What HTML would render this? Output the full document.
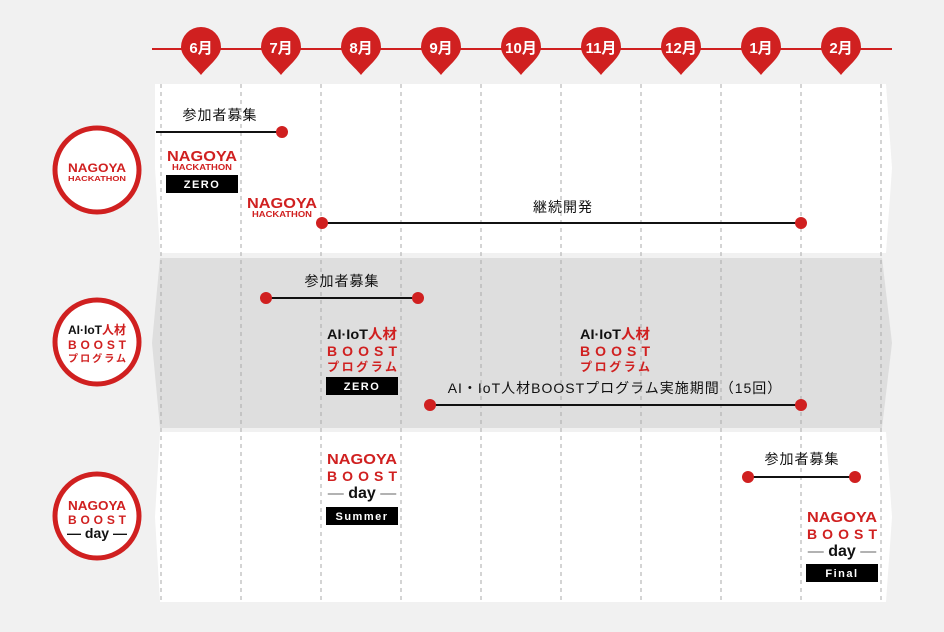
<!DOCTYPE html>
<html><head><meta charset="utf-8"><style>
html,body{margin:0;padding:0;background:#f1f1f1;}
svg{display:block;}
text{font-family:"Liberation Sans","Noto Sans CJK JP",sans-serif;}
.lbl{font-size:14px;fill:#111;letter-spacing:1px;}
.r{fill:#d02020;font-weight:bold;}
.k{fill:#111;font-weight:bold;}
.w{fill:#fff;font-weight:bold;font-size:11px;letter-spacing:1.5px;}
</style></head><body>
<svg width="944" height="632" viewBox="0 0 944 632" xmlns="http://www.w3.org/2000/svg">
<rect width="944" height="632" fill="#f1f1f1"/>
<polygon points="155,84 886,84 892,168 886,253 160,253 155,168" fill="#fff"/>
<polygon points="160,258 882,258 892,343 882,428 160,428 152,343" fill="#dedede"/>
<polygon points="160,432 886,432 892,517 886,602 160,602 155,517" fill="#fff"/>
<g stroke="#aaa" stroke-width="1" stroke-dasharray="4,4">
<line x1="161" y1="84" x2="161" y2="602"/><line x1="241" y1="84" x2="241" y2="602"/>
<line x1="321" y1="84" x2="321" y2="602"/><line x1="401" y1="84" x2="401" y2="602"/>
<line x1="481" y1="84" x2="481" y2="602"/><line x1="561" y1="84" x2="561" y2="602"/>
<line x1="641" y1="84" x2="641" y2="602"/><line x1="721" y1="84" x2="721" y2="602"/>
<line x1="801" y1="84" x2="801" y2="602"/><line x1="881" y1="84" x2="881" y2="602"/>
</g>
<line x1="152" y1="49" x2="892" y2="49" stroke="#d02020" stroke-width="2"/>
<g font-size="15" font-weight="bold" fill="#fff" text-anchor="middle">
<path d="M181,47 a20,20 0 1 1 40,0 c0,10 -12,18 -20,28 c-8,-10 -20,-18 -20,-28z" fill="#d02020"/><text x="201" y="53" fill="#fff">6月</text>
<path d="M261,47 a20,20 0 1 1 40,0 c0,10 -12,18 -20,28 c-8,-10 -20,-18 -20,-28z" fill="#d02020"/><text x="281" y="53" fill="#fff">7月</text>
<path d="M341,47 a20,20 0 1 1 40,0 c0,10 -12,18 -20,28 c-8,-10 -20,-18 -20,-28z" fill="#d02020"/><text x="361" y="53" fill="#fff">8月</text>
<path d="M421,47 a20,20 0 1 1 40,0 c0,10 -12,18 -20,28 c-8,-10 -20,-18 -20,-28z" fill="#d02020"/><text x="441" y="53" fill="#fff">9月</text>
<path d="M501,47 a20,20 0 1 1 40,0 c0,10 -12,18 -20,28 c-8,-10 -20,-18 -20,-28z" fill="#d02020"/><text x="521" y="53" fill="#fff">10月</text>
<path d="M581,47 a20,20 0 1 1 40,0 c0,10 -12,18 -20,28 c-8,-10 -20,-18 -20,-28z" fill="#d02020"/><text x="601" y="53" fill="#fff">11月</text>
<path d="M661,47 a20,20 0 1 1 40,0 c0,10 -12,18 -20,28 c-8,-10 -20,-18 -20,-28z" fill="#d02020"/><text x="681" y="53" fill="#fff">12月</text>
<path d="M741,47 a20,20 0 1 1 40,0 c0,10 -12,18 -20,28 c-8,-10 -20,-18 -20,-28z" fill="#d02020"/><text x="761" y="53" fill="#fff">1月</text>
<path d="M821,47 a20,20 0 1 1 40,0 c0,10 -12,18 -20,28 c-8,-10 -20,-18 -20,-28z" fill="#d02020"/><text x="841" y="53" fill="#fff">2月</text>
</g>
<g fill="#fff" stroke="#d02020" stroke-width="5">
<circle cx="97" cy="170" r="42"/><circle cx="97" cy="342" r="42"/><circle cx="97" cy="516" r="42"/>
</g>
<g text-anchor="middle">
<text x="97" y="172" class="r" font-size="12" textLength="58" lengthAdjust="spacingAndGlyphs">NAGOYA</text>
<text x="97" y="181" class="r" font-size="7" textLength="58" lengthAdjust="spacingAndGlyphs">HACKATHON</text>
<text x="97" y="334" class="k" font-size="12" textLength="58" lengthAdjust="spacingAndGlyphs">AI·IoT<tspan fill="#d02020">人材</tspan></text>
<text x="97" y="349" class="r" font-size="12" textLength="58" lengthAdjust="spacing">BOOST</text>
<text x="97" y="362" class="r" font-size="10" textLength="58" lengthAdjust="spacing">プログラム</text>
<text x="97" y="510" class="r" font-size="13" textLength="58" lengthAdjust="spacingAndGlyphs">NAGOYA</text>
<text x="97" y="524" class="r" font-size="12" textLength="58" lengthAdjust="spacing">BOOST</text>
<text x="97" y="538" class="k" font-size="14">— day —</text>
</g>
<text x="220" y="120" class="lbl" text-anchor="middle">参加者募集</text>
<line x1="156" y1="132" x2="282" y2="132" stroke="#111" stroke-width="2"/>
<circle cx="282" cy="132" r="6" fill="#d02020"/>
<g text-anchor="middle">
<text x="202" y="161" class="r" font-size="15" textLength="70" lengthAdjust="spacingAndGlyphs">NAGOYA</text>
<text x="202" y="170" class="r" font-size="8" textLength="60" lengthAdjust="spacingAndGlyphs">HACKATHON</text>
<rect x="166" y="175" width="72" height="18" fill="#000"/>
<text x="202" y="188" class="w">ZERO</text>
<text x="282" y="208" class="r" font-size="15" textLength="70" lengthAdjust="spacingAndGlyphs">NAGOYA</text>
<text x="282" y="217" class="r" font-size="8" textLength="60" lengthAdjust="spacingAndGlyphs">HACKATHON</text>
</g>
<text x="563" y="212" class="lbl" text-anchor="middle">継続開発</text>
<line x1="322" y1="223" x2="801" y2="223" stroke="#111" stroke-width="2"/>
<circle cx="322" cy="223" r="6" fill="#d02020"/><circle cx="801" cy="223" r="6" fill="#d02020"/>
<text x="342" y="286" class="lbl" text-anchor="middle">参加者募集</text>
<line x1="266" y1="298" x2="418" y2="298" stroke="#111" stroke-width="2"/>
<circle cx="266" cy="298" r="6" fill="#d02020"/><circle cx="418" cy="298" r="6" fill="#d02020"/>
<g text-anchor="middle">
<text x="362" y="339" class="k" font-size="14" textLength="70" lengthAdjust="spacingAndGlyphs">AI·IoT<tspan fill="#d02020">人材</tspan></text>
<text x="362" y="356" class="r" font-size="14" textLength="70" lengthAdjust="spacing">BOOST</text>
<text x="362" y="371" class="r" font-size="12" textLength="70" lengthAdjust="spacing">プログラム</text>
<rect x="326" y="377" width="72" height="18" fill="#000"/>
<text x="362" y="390" class="w">ZERO</text>
<text x="615" y="339" class="k" font-size="14" textLength="70" lengthAdjust="spacingAndGlyphs">AI·IoT<tspan fill="#d02020">人材</tspan></text>
<text x="615" y="356" class="r" font-size="14" textLength="70" lengthAdjust="spacing">BOOST</text>
<text x="615" y="371" class="r" font-size="12" textLength="70" lengthAdjust="spacing">プログラム</text>
</g>
<text x="615" y="393" class="lbl" text-anchor="middle" letter-spacing="0.5">AI・IoT人材BOOSTプログラム実施期間（15回）</text>
<line x1="430" y1="405" x2="801" y2="405" stroke="#111" stroke-width="2"/>
<circle cx="430" cy="405" r="6" fill="#d02020"/><circle cx="801" cy="405" r="6" fill="#d02020"/>
<g text-anchor="middle">
<text x="362" y="464" class="r" font-size="15" textLength="70" lengthAdjust="spacingAndGlyphs">NAGOYA</text>
<text x="362" y="481" class="r" font-size="14" textLength="70" lengthAdjust="spacing">BOOST</text>
<text x="362" y="498" class="k" font-size="16"><tspan fill="#666" font-weight="normal">— </tspan>day<tspan fill="#666" font-weight="normal"> —</tspan></text>
<rect x="326" y="507" width="72" height="18" fill="#000"/>
<text x="362" y="520" class="w">Summer</text>
</g>
<text x="802" y="464" class="lbl" text-anchor="middle">参加者募集</text>
<line x1="748" y1="477" x2="855" y2="477" stroke="#111" stroke-width="2"/>
<circle cx="748" cy="477" r="6" fill="#d02020"/><circle cx="855" cy="477" r="6" fill="#d02020"/>
<g text-anchor="middle">
<text x="842" y="522" class="r" font-size="15" textLength="70" lengthAdjust="spacingAndGlyphs">NAGOYA</text>
<text x="842" y="539" class="r" font-size="14" textLength="70" lengthAdjust="spacing">BOOST</text>
<text x="842" y="556" class="k" font-size="16"><tspan fill="#666" font-weight="normal">— </tspan>day<tspan fill="#666" font-weight="normal"> —</tspan></text>
<rect x="806" y="564" width="72" height="18" fill="#000"/>
<text x="842" y="577" class="w">Final</text>
</g>
</svg>
</body></html>
